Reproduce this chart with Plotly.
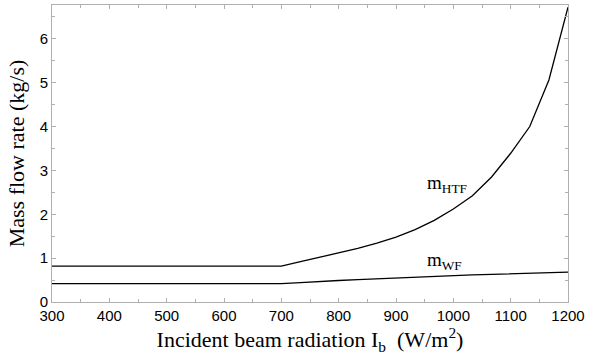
import plotly.graph_objects as go

irr = [300, 700, 733.3, 766.7, 800, 833.3, 866.7, 900, 933.3, 966.7, 1000,
       1033.3, 1066.7, 1100, 1133.3, 1166.7, 1200]
m_htf = [0.82, 0.82, 0.92, 1.02, 1.11, 1.22, 1.34, 1.48, 1.65, 1.86, 2.12,
         2.42, 2.85, 3.39, 4.0, 5.06, 6.72]
m_wf = [0.42, 0.42, 0.44, 0.47, 0.49, 0.51, 0.53, 0.55, 0.57, 0.59, 0.60,
        0.62, 0.63, 0.64, 0.66, 0.67, 0.68]

x_ticks = [300, 400, 500, 600, 700, 800, 900, 1000, 1100, 1200]
y_ticks = [0, 1, 2, 3, 4, 5, 6]

fig = go.Figure()
fig.add_trace(go.Scatter(x=irr, y=m_htf, mode="lines",
                         line=dict(color="black", width=1.3), showlegend=False))
fig.add_trace(go.Scatter(x=irr, y=m_wf, mode="lines",
                         line=dict(color="black", width=1.3), showlegend=False))

serif = "Liberation Serif, Times New Roman, serif"
fig.add_annotation(x=989, y=2.69, text="m<sub>HTF</sub>", showarrow=False,
                   font=dict(family=serif, size=19, color="black"))
fig.add_annotation(x=985, y=0.93, text="m<sub>WF</sub>", showarrow=False,
                   font=dict(family=serif, size=19, color="black"))

axis_common = dict(
    showline=True, linecolor="#b0b0b0", linewidth=1, mirror="ticks",
    ticks="inside", ticklen=4, tickcolor="#b0b0b0", showgrid=False,
    zeroline=False,
    tickfont=dict(family="Liberation Sans, Arial, sans-serif", size=15, color="black"),
)

fig.update_xaxes(range=[300, 1200], tickvals=x_ticks,
                 minor=dict(dtick=50, ticks="inside", ticklen=3, tickcolor="#b0b0b0"),
                 title=dict(text="Incident beam radiation I<sub>b</sub>  (W/m<sup>2</sup>)",
                            font=dict(family=serif, size=22, color="black"), standoff=7),
                 **axis_common)
fig.update_yaxes(range=[0, 6.77], tickvals=y_ticks,
                 minor=dict(dtick=0.5, ticks="inside", ticklen=3, tickcolor="#b0b0b0"),
                 title=dict(text="Mass flow rate (kg/s)",
                            font=dict(family=serif, size=22, color="black"), standoff=8),
                 **axis_common)

fig.update_layout(width=593, height=360, plot_bgcolor="white", paper_bgcolor="white",
                  margin=dict(l=52, r=25, t=5, b=58))

fig.write_html("out.html")
